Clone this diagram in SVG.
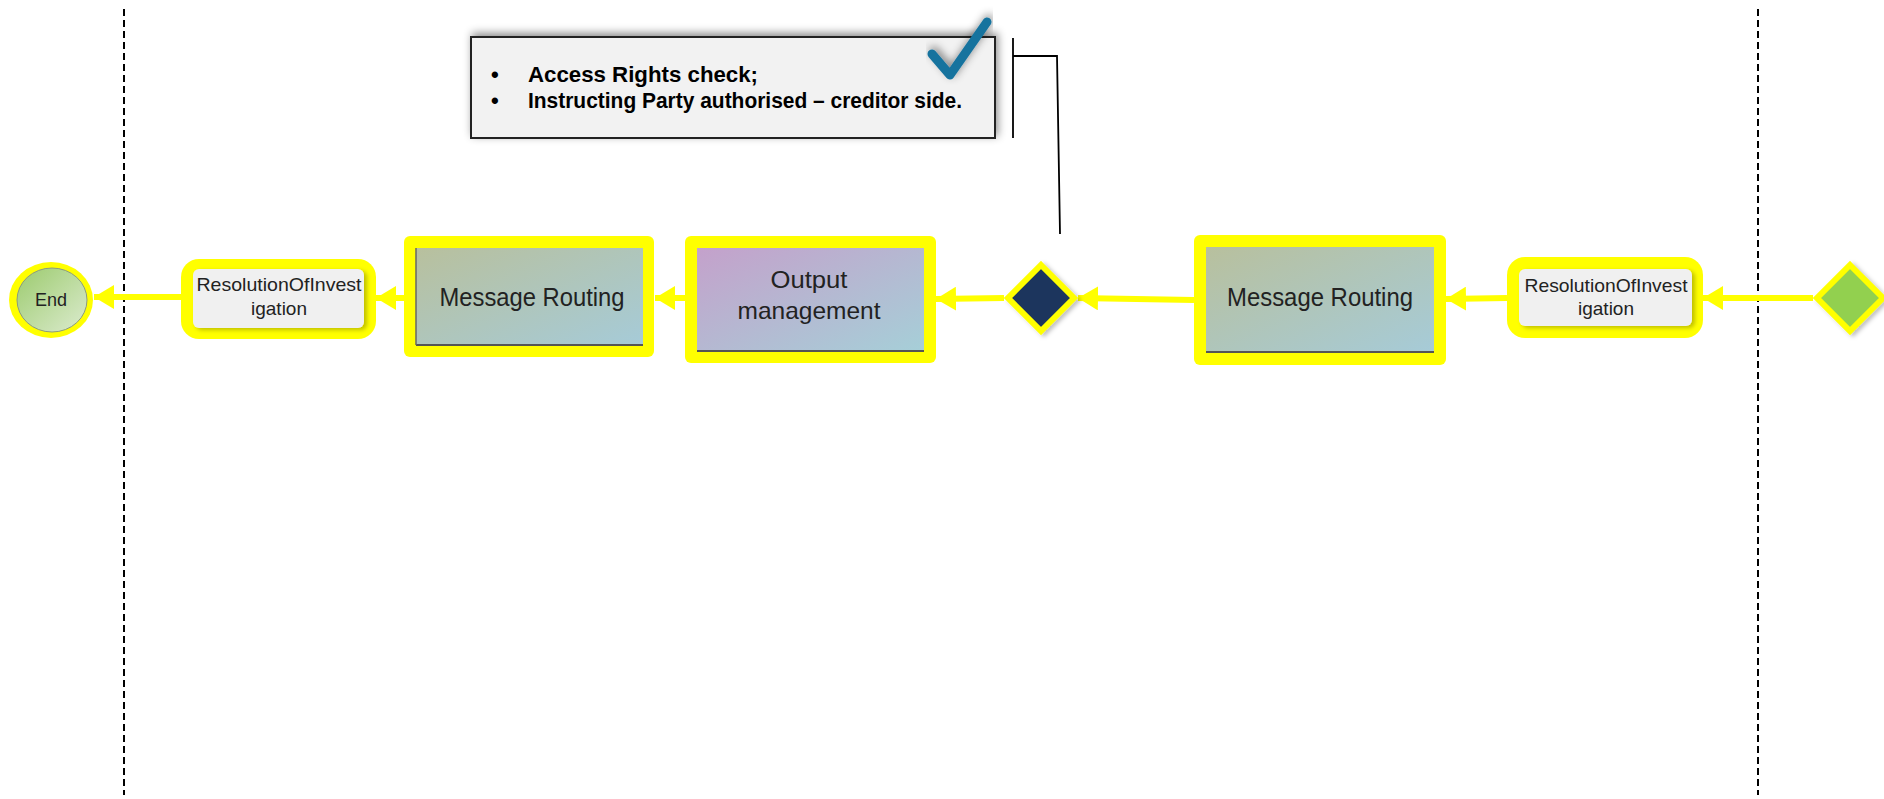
<svg xmlns="http://www.w3.org/2000/svg" width="1884" height="799" viewBox="0 0 1884 799">
<style>
.lane{stroke:#000;stroke-width:2;stroke-dasharray:7 4;fill:none}
.hl{fill:#ffff00}
.conn{stroke:#ffff00;stroke-width:6;fill:none;marker-end:url(#arr)}
.lbl{font-family:"Liberation Sans",Arial,sans-serif;fill:#222;text-anchor:middle}
.ann{font-family:"Liberation Sans",Arial,sans-serif;font-weight:bold;font-size:22px;fill:#000}
.edge{stroke:#555;stroke-width:2}
</style>
<defs>
<marker id="arr" viewBox="0 0 20 24" refX="20" refY="12" markerWidth="20" markerHeight="24" markerUnits="userSpaceOnUse" orient="auto">
<path d="M0,0 L20,12 L0,24 Z" fill="#ffff00"/>
</marker>
<linearGradient id="mrGrad" x1="0" y1="0" x2="1" y2="1">
<stop offset="0" stop-color="#b8c09d"/>
<stop offset="1" stop-color="#a6cbd8"/>
</linearGradient>
<linearGradient id="omGrad" x1="0" y1="0" x2="1" y2="1">
<stop offset="0" stop-color="#c4a1cb"/>
<stop offset="1" stop-color="#a6cfd8"/>
</linearGradient>
<linearGradient id="endGrad" x1="0" y1="0" x2="1" y2="1">
<stop offset="0" stop-color="#9ccb6e"/>
<stop offset="1" stop-color="#dcebcf"/>
</linearGradient>
<filter id="sh" x="-10%" y="-30%" width="120%" height="160%">
<feDropShadow dx="2" dy="-3" stdDeviation="4" flood-color="#000" flood-opacity="0.45"/>
</filter>
<filter id="sh2" x="-10%" y="-10%" width="130%" height="130%">
<feDropShadow dx="3" dy="2" stdDeviation="2" flood-color="#000" flood-opacity="0.25"/>
</filter>
</defs>

<rect width="1884" height="799" fill="#fff"/>

<g id="lanes">
<line class="lane" x1="124" y1="9" x2="124" y2="795"/>
<line class="lane" x1="1758" y1="9" x2="1758" y2="795"/>
</g>

<g id="annotation">
<rect x="471" y="37" width="524" height="101" fill="#f2f2f2" stroke="#222" stroke-width="2" filter="url(#sh)"/>
<text class="ann" x="491" y="82">•</text>
<text class="ann" x="491" y="108">•</text>
<text class="ann" x="528" y="82" textLength="230" lengthAdjust="spacingAndGlyphs">Access Rights check;</text>
<text class="ann" x="528" y="108" textLength="434" lengthAdjust="spacingAndGlyphs">Instructing Party authorised – creditor side.</text>
<path d="M932,54 L950,75 L987,22" fill="none" stroke="#17739e" stroke-width="9" stroke-linecap="round" stroke-linejoin="round" filter="url(#sh)"/>
<path d="M1013,38 L1013,138 M1013,56 L1057,56 L1060,234" fill="none" stroke="#000" stroke-width="1.8"/>
</g>

<g id="connectors">
<path class="conn" d="M1813,298 L1703,298"/>
<path class="conn" d="M1507,298 L1446,299"/>
<path class="conn" d="M1194,300 L1078,298"/>
<path class="conn" d="M1004,298 L936,299"/>
<path class="conn" d="M685,298 L655,298"/>
<path class="conn" d="M404,298 L376,298"/>
<path class="conn" d="M181,297 L94,297"/>
</g>

<g id="start">
<polygon points="1850,265 1883,298 1850,331 1817,298" fill="#92d050" stroke="#ffff00" stroke-width="6" filter="url(#sh2)"/>
</g>

<g id="resolution-right">
<rect class="hl" x="1507" y="257" width="196" height="81" rx="18"/>
<rect x="1519" y="269" width="173" height="57" rx="6" fill="#f0f0f0" filter="url(#sh2)"/>
<text class="lbl" x="1606" y="292" font-size="19" textLength="163" lengthAdjust="spacingAndGlyphs">ResolutionOfInvest</text>
<text class="lbl" x="1606" y="315" font-size="19">igation</text>
</g>

<g id="routing-right">
<rect class="hl" x="1194" y="235" width="252" height="130" rx="6"/>
<rect x="1206" y="247" width="228" height="105" fill="url(#mrGrad)"/>
<line class="edge" x1="1206" y1="352" x2="1434" y2="352"/>
<text class="lbl" x="1320" y="306" font-size="25" textLength="186" lengthAdjust="spacingAndGlyphs">Message Routing</text>
</g>

<g id="gateway">
<polygon points="1041,265 1074,298 1041,331 1008,298" fill="#1b365d" stroke="#ffff00" stroke-width="6" filter="url(#sh2)"/>
</g>

<g id="output-management">
<rect class="hl" x="685" y="236" width="251" height="127" rx="6"/>
<rect x="697" y="248" width="227" height="103" fill="url(#omGrad)"/>
<line class="edge" x1="697" y1="351" x2="924" y2="351"/>
<text class="lbl" x="809" y="288" font-size="24" textLength="77" lengthAdjust="spacingAndGlyphs">Output</text>
<text class="lbl" x="809" y="319" font-size="24" textLength="143" lengthAdjust="spacingAndGlyphs">management</text>
</g>

<g id="routing-left">
<rect class="hl" x="404" y="236" width="250" height="121" rx="6"/>
<rect x="416" y="248" width="227" height="97" fill="url(#mrGrad)"/>
<line class="edge" x1="416" y1="345" x2="643" y2="345"/>
<line x1="416" y1="248" x2="416" y2="345" stroke="#666" stroke-width="1.5"/>
<text class="lbl" x="532" y="306" font-size="25" textLength="185" lengthAdjust="spacingAndGlyphs">Message Routing</text>
</g>

<g id="resolution-left">
<rect class="hl" x="181" y="259" width="195" height="80" rx="18"/>
<rect x="193" y="269" width="171" height="59" rx="6" fill="#f0f0f0" filter="url(#sh2)"/>
<text class="lbl" x="279" y="291" font-size="19" textLength="165" lengthAdjust="spacingAndGlyphs">ResolutionOfInvest</text>
<text class="lbl" x="279" y="315" font-size="19">igation</text>
</g>

<g id="end">
<ellipse class="hl" cx="51" cy="300" rx="42" ry="38"/>
<ellipse cx="52" cy="300" rx="35" ry="32" fill="url(#endGrad)" stroke="#8a9a80" stroke-width="1"/>
<text class="lbl" x="51" y="306" font-size="18">End</text>
</g>
</svg>
